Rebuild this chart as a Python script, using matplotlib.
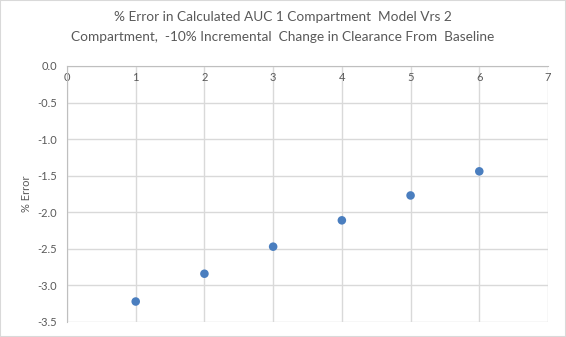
import matplotlib
matplotlib.use("Agg")
import matplotlib.pyplot as plt
from matplotlib.patches import Rectangle

x_values = [1, 2, 3, 4, 5, 6]
pct_error = [-3.22, -2.84, -2.47, -2.11, -1.77, -1.44]
x_ticks = [0, 1, 2, 3, 4, 5, 6, 7]
y_ticks = [0.0, -0.5, -1.0, -1.5, -2.0, -2.5, -3.0, -3.5]

plt.rcParams['font.family'] = ['Lato', 'DejaVu Sans']
txt = '#595959'
grid = '#d9d9d9'

fig = plt.figure(figsize=(5.66, 3.37), dpi=100)
fig.patches.append(Rectangle((0, 0), 1, 1, transform=fig.transFigure, fill=False,
                             edgecolor='#d9d9d9', linewidth=1.5))
ax = fig.add_axes([67/566, 1-322/337, (548-67)/566, (322-66)/337])
ax.set_xlim(0, 7)
ax.set_ylim(-3.5, 0)
ax.set_xticks(x_ticks)
ax.set_yticks(y_ticks)
ax.set_yticklabels([f"{v:.1f}" for v in y_ticks])
ax.grid(True, color=grid, linewidth=1)
ax.set_axisbelow(True)
for s in ['top', 'right']:
    ax.spines[s].set_visible(False)
ax.spines['bottom'].set_position(('data', 0))
ax.spines['bottom'].set_color('#bfbfbf')
ax.spines['left'].set_color('#bfbfbf')
ax.tick_params(length=0, labelsize=8, labelcolor=txt)
ax.tick_params(axis='x', pad=4)
ax.tick_params(axis='y', pad=7)
ax.scatter(x_values, pct_error, s=38, color='#4a7ebf', zorder=3, edgecolors='none')
ax.set_ylabel('% Error', fontsize=8, color=txt, labelpad=4)
fig.text(0.5, 1-17/337, '% Error in Calculated AUC 1 Compartment  Model Vrs 2',
         ha='center', va='center', fontsize=9.8, color=txt)
fig.text(0.5, 1-37/337, 'Compartment,  -10% Incremental  Change in Clearance From  Baseline',
         ha='center', va='center', fontsize=9.8, color=txt)
fig.savefig('out.png', dpi=100)
